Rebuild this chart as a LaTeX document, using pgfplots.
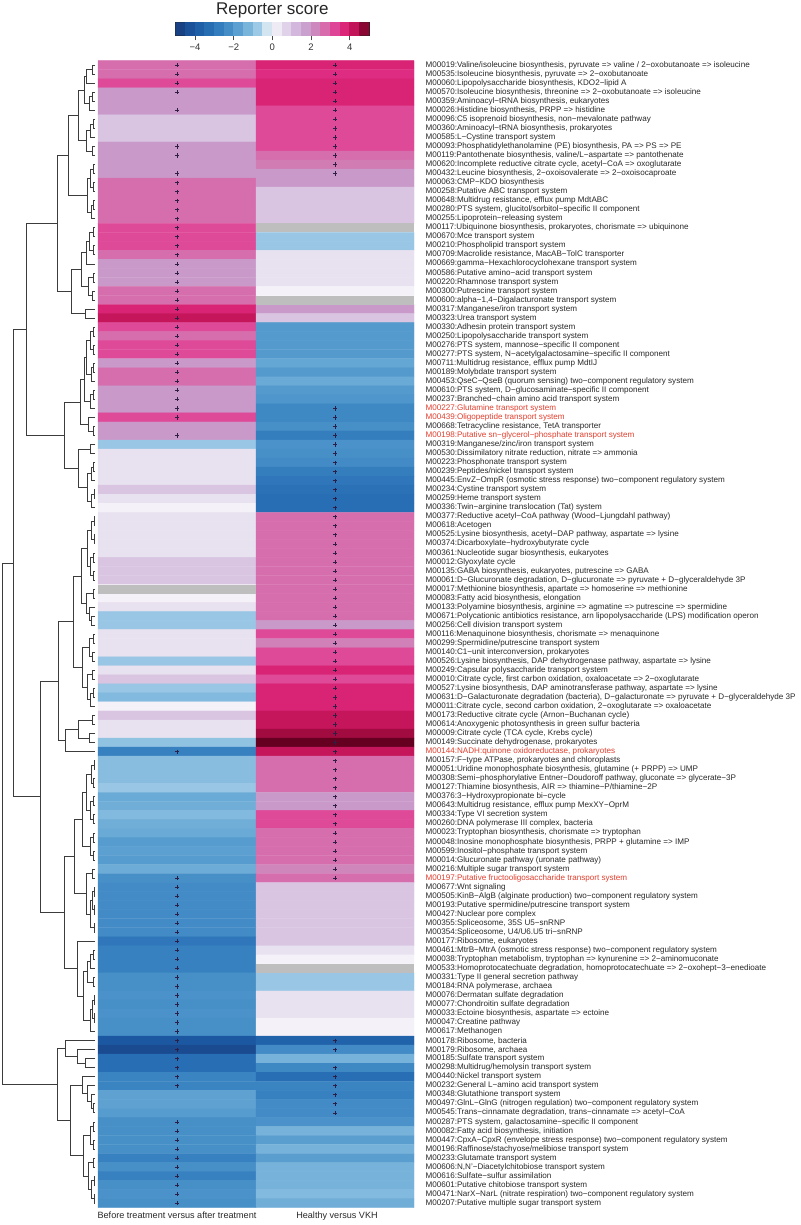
\documentclass[border=0pt]{standalone}
\usepackage{fontspec}
\setmainfont{Liberation Sans}
\usepackage{pgfplots}
\pgfplotsset{compat=1.18}
\definecolor{labred}{RGB}{224,62,45}
\definecolor{txt}{RGB}{40,40,40}
\definecolor{nagrey}{RGB}{190,190,190}
\definecolor{markc}{RGB}{45,30,70}
\definecolor{dend}{RGB}{60,60,60}
\pgfplotsset{colormap={rs}{rgb255=(23,58,120) rgb255=(26,74,144) rgb255=(28,88,162) rgb255=(34,102,173) rgb255=(44,116,184) rgb255=(58,132,194) rgb255=(78,150,203) rgb255=(106,170,214) rgb255=(136,189,224) rgb255=(176,212,234) rgb255=(247,245,250) rgb255=(232,225,239) rgb255=(217,196,226) rgb255=(205,170,214) rgb255=(200,150,198) rgb255=(210,124,180) rgb255=(220,90,162) rgb255=(224,48,138) rgb255=(212,26,104) rgb255=(176,14,72) rgb255=(101,0,32)}}
\begin{document}
\begin{tikzpicture}
\useasboundingbox (0pt,-17.3pt) rectangle (800pt,1207.7pt);
\begin{axis}[
  at={(0pt,0pt)}, anchor=south west,
  scale only axis, width=414pt, height=1147pt,
  xmin=0, xmax=414, ymin=0.5, ymax=127.5, y dir=reverse,
  axis line style={draw=none}, tick style={draw=none}, major tick length=0pt,
  xtick={177,337},
  xticklabels={Before treatment versus after treatment, Healthy versus VKH},
  xticklabel style={font=\fontsize{9.1}{10}\selectfont, text=txt, yshift=-1pt},
  ytick={1,...,127}, yticklabel pos=right,
  yticklabel style={font=\fontsize{8.1}{9}\selectfont, text=txt, xshift=8pt},
  colormap name=rs, point meta min=-5, point meta max=5,
  clip=false,
  yticklabels={
{M00019:Valine/isoleucine biosynthesis, pyruvate => valine / 2−oxobutanoate => isoleucine},
{M00535:Isoleucine biosynthesis, pyruvate => 2−oxobutanoate},
{M00060:Lipopolysaccharide biosynthesis, KDO2−lipid A},
{M00570:Isoleucine biosynthesis, threonine => 2−oxobutanoate => isoleucine},
{M00359:Aminoacyl−tRNA biosynthesis, eukaryotes},
{M00026:Histidine biosynthesis, PRPP => histidine},
{M00096:C5 isoprenoid biosynthesis, non−mevalonate pathway},
{M00360:Aminoacyl−tRNA biosynthesis, prokaryotes},
{M00585:L−Cystine transport system},
{M00093:Phosphatidylethanolamine (PE) biosynthesis, PA => PS => PE},
{M00119:Pantothenate biosynthesis, valine/L−aspartate => pantothenate},
{M00620:Incomplete reductive citrate cycle, acetyl−CoA => oxoglutarate},
{M00432:Leucine biosynthesis, 2−oxoisovalerate => 2−oxoisocaproate},
{M00063:CMP−KDO biosynthesis},
{M00258:Putative ABC transport system},
{M00648:Multidrug resistance, efflux pump MdtABC},
{M00280:PTS system, glucitol/sorbitol−specific II component},
{M00255:Lipoprotein−releasing system},
{M00117:Ubiquinone biosynthesis, prokaryotes, chorismate => ubiquinone},
{M00670:Mce transport system},
{M00210:Phospholipid transport system},
{M00709:Macrolide resistance, MacAB−TolC transporter},
{M00669:gamma−Hexachlorocyclohexane transport system},
{M00586:Putative amino−acid transport system},
{M00220:Rhamnose transport system},
{M00300:Putrescine transport system},
{M00600:alpha−1,4−Digalacturonate transport system},
{M00317:Manganese/iron transport system},
{M00323:Urea transport system},
{M00330:Adhesin protein transport system},
{M00250:Lipopolysaccharide transport system},
{M00276:PTS system, mannose−specific II component},
{M00277:PTS system, N−acetylgalactosamine−specific II component},
{M00711:Multidrug resistance, efflux pump MdtIJ},
{M00189:Molybdate transport system},
{M00453:QseC−QseB (quorum sensing) two−component regulatory system},
{M00610:PTS system, D−glucosaminate−specific II component},
{M00237:Branched−chain amino acid transport system},
{\textcolor{labred}{M00227:Glutamine transport system}},
{\textcolor{labred}{M00439:Oligopeptide transport system}},
{M00668:Tetracycline resistance, TetA transporter},
{\textcolor{labred}{M00198:Putative sn−glycerol−phosphate transport system}},
{M00319:Manganese/zinc/iron transport system},
{M00530:Dissimilatory nitrate reduction, nitrate => ammonia},
{M00223:Phosphonate transport system},
{M00239:Peptides/nickel transport system},
{M00445:EnvZ−OmpR (osmotic stress response) two−component regulatory system},
{M00234:Cystine transport system},
{M00259:Heme transport system},
{M00336:Twin−arginine translocation (Tat) system},
{M00377:Reductive acetyl−CoA pathway (Wood−Ljungdahl pathway)},
{M00618:Acetogen},
{M00525:Lysine biosynthesis, acetyl−DAP pathway, aspartate => lysine},
{M00374:Dicarboxylate−hydroxybutyrate cycle},
{M00361:Nucleotide sugar biosynthesis, eukaryotes},
{M00012:Glyoxylate cycle},
{M00135:GABA biosynthesis, eukaryotes, putrescine => GABA},
{M00061:D−Glucuronate degradation, D−glucuronate => pyruvate + D−glyceraldehyde 3P},
{M00017:Methionine biosynthesis, apartate => homoserine => methionine},
{M00083:Fatty acid biosynthesis, elongation},
{M00133:Polyamine biosynthesis, arginine => agmatine => putrescine => spermidine},
{M00671:Polycationic antibiotics resistance, arn lipopolysaccharide (LPS) modification operon},
{M00256:Cell division transport system},
{M00116:Menaquinone biosynthesis, chorismate => menaquinone},
{M00299:Spermidine/putrescine transport system},
{M00140:C1−unit interconversion, prokaryotes},
{M00526:Lysine biosynthesis, DAP dehydrogenase pathway, aspartate => lysine},
{M00249:Capsular polysaccharide transport system},
{M00010:Citrate cycle, first carbon oxidation, oxaloacetate => 2−oxoglutarate},
{M00527:Lysine biosynthesis, DAP aminotransferase pathway, aspartate => lysine},
{M00631:D−Galacturonate degradation (bacteria), D−galacturonate => pyruvate + D−glyceraldehyde 3P},
{M00011:Citrate cycle, second carbon oxidation, 2−oxoglutarate => oxaloacetate},
{M00173:Reductive citrate cycle (Arnon−Buchanan cycle)},
{M00614:Anoxygenic photosynthesis in green sulfur bacteria},
{M00009:Citrate cycle (TCA cycle, Krebs cycle)},
{M00149:Succinate dehydrogenase, prokaryotes},
{\textcolor{labred}{M00144:NADH:quinone oxidoreductase, prokaryotes}},
{M00157:F−type ATPase, prokaryotes and chloroplasts},
{M00051:Uridine monophosphate biosynthesis, glutamine (+ PRPP) => UMP},
{M00308:Semi−phosphorylative Entner−Doudoroff pathway, gluconate => glycerate−3P},
{M00127:Thiamine biosynthesis, AIR => thiamine−P/thiamine−2P},
{M00376:3−Hydroxypropionate bi−cycle},
{M00643:Multidrug resistance, efflux pump MexXY−OprM},
{M00334:Type VI secretion system},
{M00260:DNA polymerase III complex, bacteria},
{M00023:Tryptophan biosynthesis, chorismate => tryptophan},
{M00048:Inosine monophosphate biosynthesis, PRPP + glutamine => IMP},
{M00599:Inositol−phosphate transport system},
{M00014:Glucuronate pathway (uronate pathway)},
{M00216:Multiple sugar transport system},
{\textcolor{labred}{M00197:Putative fructooligosaccharide transport system}},
{M00677:Wnt signaling},
{M00505:KinB−AlgB (alginate production) two−component regulatory system},
{M00193:Putative spermidine/putrescine transport system},
{M00427:Nuclear pore complex},
{M00355:Spliceosome, 35S U5−snRNP},
{M00354:Spliceosome, U4/U6.U5 tri−snRNP},
{M00177:Ribosome, eukaryotes},
{M00461:MtrB−MtrA (osmotic stress response) two−component regulatory system},
{M00038:Tryptophan metabolism, tryptophan => kynurenine => 2−aminomuconate},
{M00533:Homoprotocatechuate degradation, homoprotocatechuate => 2−oxohept−3−enedioate},
{M00331:Type II general secretion pathway},
{M00184:RNA polymerase, archaea},
{M00076:Dermatan sulfate degradation},
{M00077:Chondroitin sulfate degradation},
{M00033:Ectoine biosynthesis, aspartate => ectoine},
{M00047:Creatine pathway},
{M00617:Methanogen},
{M00178:Ribosome, bacteria},
{M00179:Ribosome, archaea},
{M00185:Sulfate transport system},
{M00298:Multidrug/hemolysin transport system},
{M00440:Nickel transport system},
{M00232:General L−amino acid transport system},
{M00348:Glutathione transport system},
{M00497:GlnL−GlnG (nitrogen regulation) two−component regulatory system},
{M00545:Trans−cinnamate degradation, trans−cinnamate => acetyl−CoA},
{M00287:PTS system, galactosamine−specific II component},
{M00082:Fatty acid biosynthesis, initiation},
{M00447:CpxA−CpxR (envelope stress response) two−component regulatory system},
{M00196:Raffinose/stachyose/melibiose transport system},
{M00233:Glutamate transport system},
{M00606:N,N'−Diacetylchitobiose transport system},
{M00616:Sulfate−sulfur assimilation},
{M00601:Putative chitobiose transport system},
{M00471:NarX−NarL (nitrate respiration) two−component regulatory system},
{M00207:Putative multiple sugar transport system}
  },
]
% heatmap: column 1 at x=177, column 2 at x=335; rows 1..127
\addplot[matrix plot*, point meta=explicit, mesh/cols=2] coordinates {
(177,1)[2.7] (335,1)[3.8]
(177,2)[2.7] (335,2)[3.6]
(177,3)[3.2] (335,3)[3.8]
(177,4)[1.9] (335,4)[3.8]
(177,5)[1.9] (335,5)[3.8]
(177,6)[1.9] (335,6)[3.2]
(177,7)[1.0] (335,7)[3.2]
(177,8)[1.0] (335,8)[3.2]
(177,9)[1.0] (335,9)[3.2]
(177,10)[1.9] (335,10)[3.2]
(177,11)[1.9] (335,11)[2.7]
(177,12)[1.9] (335,12)[2.5]
(177,13)[1.9] (335,13)[1.9]
(177,14)[2.7] (335,14)[1.9]
(177,15)[2.7] (335,15)[1.0]
(177,16)[2.7] (335,16)[1.0]
(177,17)[2.7] (335,17)[1.0]
(177,18)[2.7] (335,18)[1.0]
(177,19)[3.2] (335,19)[0]
(177,20)[3.2] (335,20)[-0.8]
(177,21)[3.2] (335,21)[-0.8]
(177,22)[2.7] (335,22)[0.5]
(177,23)[1.9] (335,23)[0.5]
(177,24)[1.9] (335,24)[0.5]
(177,25)[1.9] (335,25)[0.5]
(177,26)[2.7] (335,26)[0.1]
(177,27)[2.7] (335,27)[0]
(177,28)[3.8] (335,28)[1.9]
(177,29)[4.2] (335,29)[1.0]
(177,30)[3.2] (335,30)[-1.9]
(177,31)[2.7] (335,31)[-1.9]
(177,32)[3.2] (335,32)[-1.9]
(177,33)[3.2] (335,33)[-1.9]
(177,34)[1.9] (335,34)[-1.6]
(177,35)[2.7] (335,35)[-1.9]
(177,36)[2.7] (335,36)[-1.5]
(177,37)[1.9] (335,37)[-1.9]
(177,38)[1.9] (335,38)[-2.0]
(177,39)[1.9] (335,39)[-2.4]
(177,40)[3.2] (335,40)[-2.4]
(177,41)[1.9] (335,41)[-2.2]
(177,42)[1.9] (335,42)[-2.7]
(177,43)[-0.8] (335,43)[-2.1]
(177,44)[0.5] (335,44)[-2.2]
(177,45)[0.5] (335,45)[-2.3]
(177,46)[0.5] (335,46)[-2.7]
(177,47)[0.5] (335,47)[-2.9]
(177,48)[1.0] (335,48)[-3.1]
(177,49)[0.5] (335,49)[-3.2]
(177,50)[0.1] (335,50)[-3.2]
(177,51)[0.5] (335,51)[2.7]
(177,52)[0.5] (335,52)[2.7]
(177,53)[0.5] (335,53)[2.7]
(177,54)[0.5] (335,54)[2.7]
(177,55)[0.5] (335,55)[2.7]
(177,56)[1.0] (335,56)[2.7]
(177,57)[1.0] (335,57)[2.7]
(177,58)[1.0] (335,58)[2.7]
(177,59)[0] (335,59)[2.7]
(177,60)[0.1] (335,60)[2.7]
(177,61)[0.5] (335,61)[2.7]
(177,62)[-0.8] (335,62)[2.7]
(177,63)[-0.8] (335,63)[1.9]
(177,64)[0.5] (335,64)[3.2]
(177,65)[0.5] (335,65)[2.4]
(177,66)[0.5] (335,66)[3.2]
(177,67)[-0.8] (335,67)[3.2]
(177,68)[0.5] (335,68)[3.8]
(177,69)[1.0] (335,69)[3.2]
(177,70)[-0.8] (335,70)[3.8]
(177,71)[-1.1] (335,71)[3.8]
(177,72)[0.1] (335,72)[3.8]
(177,73)[1.0] (335,73)[4.2]
(177,74)[0.5] (335,74)[4.2]
(177,75)[0.5] (335,75)[4.6]
(177,76)[-0.9] (335,76)[5.0]
(177,77)[-2.6] (335,77)[4.2]
(177,78)[-1.0] (335,78)[2.7]
(177,79)[-1.0] (335,79)[2.7]
(177,80)[-1.0] (335,80)[2.7]
(177,81)[-0.8] (335,81)[2.7]
(177,82)[-1.5] (335,82)[1.9]
(177,83)[-1.4] (335,83)[1.9]
(177,84)[-1.1] (335,84)[3.2]
(177,85)[-1.4] (335,85)[3.2]
(177,86)[-1.5] (335,86)[2.7]
(177,87)[-1.85] (335,87)[2.7]
(177,88)[-1.75] (335,88)[2.7]
(177,89)[-1.85] (335,89)[2.7]
(177,90)[-1.45] (335,90)[2.3]
(177,91)[-2.2] (335,91)[2.7]
(177,92)[-2.3] (335,92)[1.0]
(177,93)[-2.3] (335,93)[1.0]
(177,94)[-2.3] (335,94)[1.0]
(177,95)[-2.3] (335,95)[1.0]
(177,96)[-2.3] (335,96)[1.0]
(177,97)[-2.3] (335,97)[1.0]
(177,98)[-2.9] (335,98)[1.0]
(177,99)[-2.6] (335,99)[0.5]
(177,100)[-2.6] (335,100)[0.1]
(177,101)[-2.6] (335,101)[0]
(177,102)[-2.2] (335,102)[-0.8]
(177,103)[-2.2] (335,103)[-0.8]
(177,104)[-2.1] (335,104)[0.5]
(177,105)[-2.2] (335,105)[0.5]
(177,106)[-2.1] (335,106)[0.5]
(177,107)[-2.2] (335,107)[0.1]
(177,108)[-2.2] (335,108)[0.1]
(177,109)[-4.0] (335,109)[-3.6]
(177,110)[-4.5] (335,110)[-2.3]
(177,111)[-3.2] (335,111)[-1.3]
(177,112)[-3.2] (335,112)[-2.4]
(177,113)[-2.5] (335,113)[-3.2]
(177,114)[-2.5] (335,114)[-2.5]
(177,115)[-1.7] (335,115)[-2.6]
(177,116)[-1.7] (335,116)[-2.3]
(177,117)[-1.85] (335,117)[-2.3]
(177,118)[-2.2] (335,118)[-2.1]
(177,119)[-2.2] (335,119)[-1.3]
(177,120)[-2.2] (335,120)[-1.8]
(177,121)[-2.2] (335,121)[-1.3]
(177,122)[-2.6] (335,122)[-1.8]
(177,123)[-2.2] (335,123)[-1.3]
(177,124)[-2.6] (335,124)[-1.3]
(177,125)[-2.2] (335,125)[-1.3]
(177,126)[-2.1] (335,126)[-1.1]
(177,127)[-2.2] (335,127)[-1.4]
};
% NA cells
\addplot[fill=nagrey, draw=none] coordinates {(256,18.5) (414,18.5) (414,19.5) (256,19.5)} -- cycle;
\addplot[fill=nagrey, draw=none] coordinates {(256,26.5) (414,26.5) (414,27.5) (256,27.5)} -- cycle;
\addplot[fill=nagrey, draw=none] coordinates {(98,58.5) (256,58.5) (256,59.5) (98,59.5)} -- cycle;
\addplot[fill=nagrey, draw=none] coordinates {(256,100.5) (414,100.5) (414,101.5) (256,101.5)} -- cycle;
% significance marks
\addplot[only marks, mark=+, mark size=2.1pt, draw=markc, line width=0.75pt] coordinates {
(177,1)(177,2)(177,3)(177,4)(177,6)(177,10)(177,11)(177,13)
(177,14)(177,15)(177,16)(177,17)(177,18)(177,19)(177,20)(177,21)(177,22)(177,23)(177,24)(177,25)(177,26)(177,27)
(177,28)(177,29)(177,30)(177,31)(177,32)(177,33)(177,34)(177,35)(177,36)(177,37)(177,38)(177,39)(177,40)(177,42)
(177,77)
(177,91)(177,92)(177,93)(177,94)(177,95)(177,96)(177,97)(177,98)(177,99)(177,100)(177,101)(177,102)(177,103)
(177,104)(177,105)(177,106)(177,107)(177,108)(177,109)(177,110)(177,111)(177,112)(177,113)(177,114)
(177,118)(177,119)(177,120)(177,121)(177,122)(177,123)(177,124)(177,125)(177,126)(177,127)
};
\addplot[only marks, mark=+, mark size=2.1pt, draw=markc, line width=0.75pt] coordinates {
(335,1)(335,2)(335,3)(335,4)(335,5)(335,6)(335,7)(335,8)(335,9)(335,10)(335,11)(335,12)(335,13)
(335,39)(335,40)(335,41)(335,42)(335,43)(335,44)(335,45)(335,46)(335,47)(335,48)(335,49)(335,50)
(335,51)(335,52)(335,53)(335,54)(335,55)(335,56)(335,57)(335,58)(335,59)(335,60)(335,61)(335,62)(335,63)
(335,64)(335,65)(335,66)(335,67)(335,68)(335,69)(335,70)(335,71)(335,72)(335,73)(335,74)(335,75)(335,76)
(335,77)(335,78)(335,79)(335,80)(335,81)(335,82)(335,83)(335,84)(335,85)(335,86)(335,87)(335,88)(335,89)(335,90)(335,91)
(335,109)(335,110)(335,112)(335,113)(335,114)(335,115)(335,116)(335,117)
};
% dendrogram
\addplot[dend, line width=0.8pt, unbounded coords=jump] coordinates {
(95,1) (92,1) (92,2) (95,2) (nan,nan)
(92,1.5) (86,1.5) (86,3) (95,3) (nan,nan)
(95,4) (92,4) (92,5) (95,5) (nan,nan)
(92,4.5) (89,4.5) (89,6) (95,6) (nan,nan)
(86,2.25) (84,2.25) (84,5.25) (89,5.25) (nan,nan)
(95,7) (93,7) (93,8) (95,8) (nan,nan)
(93,7.5) (90,7.5) (90,9) (95,9) (nan,nan)
(95,10) (92,10) (92,11) (95,11) (nan,nan)
(90,8.25) (86,8.25) (86,10.5) (92,10.5) (nan,nan)
(84,3.75) (78.3,3.75) (78.3,9.375) (86,9.375) (nan,nan)
(95,12) (93,12) (93,13) (95,13) (nan,nan)
(95,14) (93,14) (93,15) (95,15) (nan,nan)
(93,12.5) (90,12.5) (90,14.5) (93,14.5) (nan,nan)
(95,16) (93,16) (93,17) (95,17) (nan,nan)
(93,16.5) (91,16.5) (91,18) (95,18) (nan,nan)
(90,13.5) (87,13.5) (87,17.25) (91,17.25) (nan,nan)
(78.3,6.5625) (68.3,6.5625) (68.3,15.375) (87,15.375) (nan,nan)
(95,19) (93,19) (93,20) (95,20) (nan,nan)
(95,21) (93,21) (93,22) (95,22) (nan,nan)
(93,19.5) (89,19.5) (89,21.5) (93,21.5) (nan,nan)
(89,20.5) (86,20.5) (86,23) (95,23) (nan,nan)
(95,24) (93,24) (93,25) (95,25) (nan,nan)
(95,26) (92,26) (92,27) (95,27) (nan,nan)
(93,24.5) (88,24.5) (88,26.5) (92,26.5) (nan,nan)
(86,21.75) (81.7,21.75) (81.7,25.5) (88,25.5) (nan,nan)
(95,28) (85,28) (85,29) (95,29) (nan,nan)
(81.7,23.625) (71,23.625) (71,28.5) (85,28.5) (nan,nan)
(68.3,10.97) (57.3,10.97) (57.3,26.06) (71,26.06) (nan,nan)
(95,30) (93,30) (93,31) (95,31) (nan,nan)
(95,32) (93,32) (93,33) (95,33) (nan,nan)
(93,30.5) (90,30.5) (90,32.5) (93,32.5) (nan,nan)
(95,34) (93,34) (93,35) (95,35) (nan,nan)
(93,34.5) (91,34.5) (91,36) (95,36) (nan,nan)
(90,31.5) (86,31.5) (86,35.25) (91,35.25) (nan,nan)
(95,37) (93,37) (93,38) (95,38) (nan,nan)
(93,37.5) (90,37.5) (90,39) (95,39) (nan,nan)
(86,33.375) (84,33.375) (84,38.25) (90,38.25) (nan,nan)
(95,41) (93,41) (93,42) (95,42) (nan,nan)
(95,40) (88,40) (88,41.5) (93,41.5) (nan,nan)
(84,35.81) (80,35.81) (80,40.75) (88,40.75) (nan,nan)
(95,43) (90,43) (90,44) (95,44) (nan,nan)
(95,45) (93,45) (93,46) (95,46) (nan,nan)
(93,45.5) (91,45.5) (91,47) (95,47) (nan,nan)
(95,48) (94,48) (94,49) (95,49) (nan,nan)
(94,48.5) (91,48.5) (91,50) (95,50) (nan,nan)
(91,46.25) (87,46.25) (87,49.25) (91,49.25) (nan,nan)
(90,43.5) (78,43.5) (78,47.75) (87,47.75) (nan,nan)
(80,38.28) (64,38.28) (64,45.625) (78,45.625) (nan,nan)
(57.3,18.52) (26.7,18.52) (26.7,41.95) (64,41.95) (nan,nan)
(95,51) (94,51) (94,52) (95,52) (nan,nan)
(95,53) (94,53) (94,54) (95,54) (nan,nan)
(94,51.5) (91,51.5) (91,53.5) (94,53.5) (nan,nan)
(95,55) (93,55) (93,56) (95,56) (nan,nan)
(95,57) (93,57) (93,58) (95,58) (nan,nan)
(93,55.5) (90,55.5) (90,57.5) (93,57.5) (nan,nan)
(91,52.5) (87,52.5) (87,56.5) (90,56.5) (nan,nan)
(95,59) (93,59) (93,60) (95,60) (nan,nan)
(95,62) (91,62) (91,63) (95,63) (nan,nan)
(95,61) (89,61) (89,62.5) (91,62.5) (nan,nan)
(93,59.5) (86,59.5) (86,61.75) (89,61.75) (nan,nan)
(87,54.5) (81.7,54.5) (81.7,60.625) (86,60.625) (nan,nan)
(95,64) (93,64) (93,65) (95,65) (nan,nan)
(95,66) (92,66) (92,67) (95,67) (nan,nan)
(93,64.5) (89,64.5) (89,66.5) (92,66.5) (nan,nan)
(95,68) (92,68) (92,69) (95,69) (nan,nan)
(95,70) (93,70) (93,71) (95,71) (nan,nan)
(93,70.5) (90,70.5) (90,72) (95,72) (nan,nan)
(92,68.5) (87,68.5) (87,71.25) (90,71.25) (nan,nan)
(89,65.5) (82,65.5) (82,69.875) (87,69.875) (nan,nan)
(81.7,57.56) (73.3,57.56) (73.3,67.69) (82,67.69) (nan,nan)
(95,73) (92,73) (92,74) (95,74) (nan,nan)
(95,75) (89,75) (89,76) (95,76) (nan,nan)
(92,73.5) (78,73.5) (78,75.5) (89,75.5) (nan,nan)
(78,74.5) (65,74.5) (65,77) (95,77) (nan,nan)
(73.3,62.63) (58.3,62.63) (58.3,75.75) (65,75.75) (nan,nan)
(95,78) (94,78) (94,79) (95,79) (nan,nan)
(95,80) (93,80) (93,81) (95,81) (nan,nan)
(94,78.5) (91,78.5) (91,80.5) (93,80.5) (nan,nan)
(95,82) (93,82) (93,83) (95,83) (nan,nan)
(95,84) (93,84) (93,85) (95,85) (nan,nan)
(93,82.5) (90,82.5) (90,84.5) (93,84.5) (nan,nan)
(91,79.5) (86,79.5) (86,83.5) (90,83.5) (nan,nan)
(95,86) (93,86) (93,87) (95,87) (nan,nan)
(95,88) (93,88) (93,89) (95,89) (nan,nan)
(93,86.5) (90,86.5) (90,88.5) (93,88.5) (nan,nan)
(86,81.5) (82,81.5) (82,87.5) (90,87.5) (nan,nan)
(95,90) (92,90) (92,91) (95,91) (nan,nan)
(95,92) (94,92) (94,93) (95,93) (nan,nan)
(95,94) (94,94) (94,95) (95,95) (nan,nan)
(95,96) (94,96) (94,97) (95,97) (nan,nan)
(94,92.5) (92,92.5) (92,94.5) (94,94.5) (nan,nan)
(92,93.5) (90,93.5) (90,96.5) (94,96.5) (nan,nan)
(92,90.5) (86,90.5) (86,95) (90,95) (nan,nan)
(82,84.5) (74,84.5) (74,92.75) (86,92.75) (nan,nan)
(95,99) (93,99) (93,100) (95,100) (nan,nan)
(93,99.5) (90,99.5) (90,101) (95,101) (nan,nan)
(95,102) (93,102) (93,103) (95,103) (nan,nan)
(90,100.25) (87,100.25) (87,102.5) (93,102.5) (nan,nan)
(95,104) (94,104) (94,105) (95,105) (nan,nan)
(95,106) (94,106) (94,107) (95,107) (nan,nan)
(94,104.5) (92,104.5) (92,106.5) (94,106.5) (nan,nan)
(92,105.5) (90,105.5) (90,108) (95,108) (nan,nan)
(87,101.375) (83,101.375) (83,106.75) (90,106.75) (nan,nan)
(95,98) (77,98) (77,104.06) (83,104.06) (nan,nan)
(74,88.625) (64,88.625) (64,101.03) (77,101.03) (nan,nan)
(58.3,69.19) (40.7,69.19) (40.7,94.83) (64,94.83) (nan,nan)
(26.7,30.24) (13.3,30.24) (13.3,82.01) (40.7,82.01) (nan,nan)
(95,111) (85,111) (85,112) (95,112) (nan,nan)
(95,110) (77,110) (77,111.5) (85,111.5) (nan,nan)
(95,109) (65,109) (65,110.75) (77,110.75) (nan,nan)
(95,116) (93,116) (93,117) (95,117) (nan,nan)
(95,115) (91,115) (91,116.5) (93,116.5) (nan,nan)
(95,114) (87,114) (87,115.75) (91,115.75) (nan,nan)
(95,113) (82,113) (82,114.875) (87,114.875) (nan,nan)
(95,118) (93,118) (93,119) (95,119) (nan,nan)
(95,120) (93,120) (93,121) (95,121) (nan,nan)
(93,118.5) (90,118.5) (90,120.5) (93,120.5) (nan,nan)
(95,122) (93,122) (93,123) (95,123) (nan,nan)
(95,124) (94,124) (94,125) (95,125) (nan,nan)
(95,126) (94,126) (94,127) (95,127) (nan,nan)
(94,124.5) (91,124.5) (91,126.5) (94,126.5) (nan,nan)
(93,122.5) (88,122.5) (88,125.5) (91,125.5) (nan,nan)
(90,119.5) (83,119.5) (83,124) (88,124) (nan,nan)
(82,113.94) (70,113.94) (70,121.75) (83,121.75) (nan,nan)
(65,109.875) (57,109.875) (57,117.84) (70,117.84) (nan,nan)
(13.3,56.13) (2.5,56.13) (2.5,113.86) (57,113.86)
};
\end{axis}
% colour bar
\begin{axis}[
  at={(175.7pt,1172.4pt)}, anchor=south west,
  scale only axis, width=193.3pt, height=12.6pt,
  xmin=-5, xmax=5, ymin=0, ymax=1,
  ytick=\empty, xtick={-4,-2,0,2,4}, xticklabels={−4,−2,0,2,4},
  xtick pos=left, tick align=outside, major tick length=5pt,
  tick style={color=black!70, line width=0.6pt},
  axis line style={line width=0.6pt, black!85},
  xticklabel style={font=\fontsize{9.5}{10}\selectfont, text=black!80},
  colormap name=rs, point meta min=-5, point meta max=5,
  clip=false,
]
\addplot[matrix plot*, point meta=explicit, mesh/cols=20] coordinates {
(-4.75,0.25)[-4.75] (-4.25,0.25)[-4.25] (-3.75,0.25)[-3.75] (-3.25,0.25)[-3.25] (-2.75,0.25)[-2.75]
(-2.25,0.25)[-2.25] (-1.75,0.25)[-1.75] (-1.25,0.25)[-1.25] (-0.75,0.25)[-0.75] (-0.25,0.25)[-0.25]
(0.25,0.25)[0.25] (0.75,0.25)[0.75] (1.25,0.25)[1.25] (1.75,0.25)[1.75] (2.25,0.25)[2.25]
(2.75,0.25)[2.75] (3.25,0.25)[3.25] (3.75,0.25)[3.75] (4.25,0.25)[4.25] (4.75,0.25)[4.75]
(-4.75,0.75)[-4.75] (-4.25,0.75)[-4.25] (-3.75,0.75)[-3.75] (-3.25,0.75)[-3.25] (-2.75,0.75)[-2.75]
(-2.25,0.75)[-2.25] (-1.75,0.75)[-1.75] (-1.25,0.75)[-1.25] (-0.75,0.75)[-0.75] (-0.25,0.75)[-0.25]
(0.25,0.75)[0.25] (0.75,0.75)[0.75] (1.25,0.75)[1.25] (1.75,0.75)[1.75] (2.25,0.75)[2.25]
(2.75,0.75)[2.75] (3.25,0.75)[3.25] (3.75,0.75)[3.75] (4.25,0.75)[4.25] (4.75,0.75)[4.75]
};
\node[anchor=base, yshift=7.7pt, font=\fontsize{17}{18}\selectfont, text=black!85] at (rel axis cs:0.5,1) {Reporter score};
\end{axis}
\end{tikzpicture}
\end{document}
